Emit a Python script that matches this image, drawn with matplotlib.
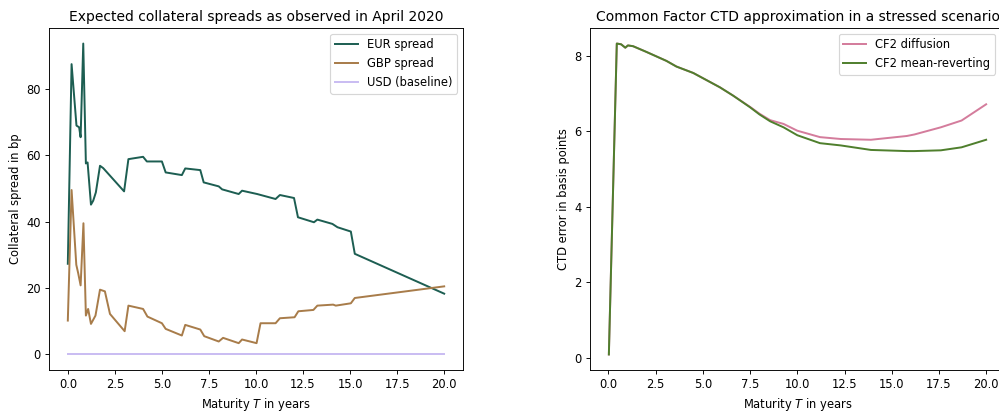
import numpy as np
import matplotlib
matplotlib.use("Agg")
import matplotlib.pyplot as plt

# left panel: collateral spreads (bp) by maturity (years)
T_eur = [0.0, 0.2, 0.46, 0.6, 0.68, 0.82, 0.96, 1.05, 1.23, 1.35, 1.49, 1.71, 1.88,
         2.99, 3.22, 4.0, 4.2, 5.0, 5.2, 6.06, 6.24, 7.04, 7.22, 8.02, 8.2, 9.08, 9.26,
         10.06, 11.04, 11.27, 12.02, 12.23, 13.08, 13.26, 14.06, 14.33, 15.04, 15.25, 20.0]
eur = [27.3, 87.4, 68.9, 68.4, 65.4, 93.6, 57.5, 57.8, 45.1, 46.3, 48.8, 56.8, 56.1,
       49.1, 58.8, 59.5, 58.1, 58.1, 54.8, 54.0, 56.0, 55.5, 51.8, 50.6, 49.7, 48.3, 49.3,
       48.3, 46.8, 48.0, 47.1, 41.3, 39.8, 40.6, 39.3, 38.3, 37.0, 30.3, 18.3]

T_gbp = [0.0, 0.2, 0.45, 0.55, 0.68, 0.83, 0.96, 1.08, 1.23, 1.47, 1.71, 1.97, 2.24,
         3.02, 3.22, 4.0, 4.23, 5.0, 5.2, 6.06, 6.24, 7.04, 7.25, 8.02, 8.25, 9.08, 9.26,
         10.03, 10.24, 11.04, 11.27, 12.05, 12.25, 13.05, 13.26, 14.1, 14.24, 15.04, 15.25, 20.0]
gbp = [10.2, 49.5, 27.0, 24.5, 20.8, 39.5, 11.7, 13.7, 9.2, 11.7, 19.5, 19.0, 12.2,
       7.0, 14.7, 13.7, 11.4, 9.4, 7.7, 5.7, 8.9, 7.5, 5.5, 3.9, 5.0, 3.4, 4.5,
       3.4, 9.4, 9.4, 10.9, 11.2, 13.0, 13.4, 14.7, 15.0, 14.7, 15.4, 17.0, 20.5]

T_usd = [0.0, 20.0]
usd = [0.0, 0.0]

# right panel: CTD error (bp)
T_cf = [0.02, 0.44, 0.67, 0.89, 1.03, 1.3, 2.0, 3.07, 3.6, 4.49, 5.9, 6.6, 7.5, 8.0,
        8.56, 9.27, 10.0, 11.2, 12.3, 13.9, 15.8, 16.2, 17.6, 18.7, 20.0]
cf2_diff = [0.09, 8.33, 8.31, 8.22, 8.28, 8.26, 8.11, 7.87, 7.72, 7.55, 7.17, 6.95, 6.65, 6.47,
            6.30, 6.20, 6.02, 5.85, 5.80, 5.78, 5.88, 5.92, 6.11, 6.29, 6.72]
cf2_mr = [0.09, 8.33, 8.31, 8.22, 8.28, 8.26, 8.11, 7.87, 7.72, 7.55, 7.17, 6.95, 6.64, 6.45,
          6.27, 6.11, 5.90, 5.69, 5.63, 5.51, 5.48, 5.48, 5.50, 5.58, 5.78]

DPI = 83
plt.rcParams["lines.linewidth"] = 1.7
fig = plt.figure(figsize=(999 / DPI, 416 / DPI), dpi=DPI)
ax1 = fig.add_axes([49 / 999, 46 / 416, 414 / 999, 342 / 416])
ax2 = fig.add_axes([590 / 999, 46 / 416, 415 / 999, 342 / 416])

ax1.plot(T_eur, eur, color="#1d5e52", label="EUR spread")
ax1.plot(T_gbp, gbp, color="#a87c4a", label="GBP spread")
ax1.plot(T_usd, usd, color="#c9bcf2", label="USD (baseline)")
ax1.set_title("Expected collateral spreads as observed in April 2020")
ax1.set_xlabel("Maturity $T$ in years")
ax1.set_ylabel("Collateral spread in bp")
ax1.legend(loc="upper right")

ax2.plot(T_cf, cf2_diff, color="#d47c9c", label="CF2 diffusion")
ax2.plot(T_cf, cf2_mr, color="#4f7f2d", label="CF2 mean-reverting")
ax2.set_title("Common Factor CTD approximation in a stressed scenario")
ax2.set_xlabel("Maturity $T$ in years")
ax2.set_ylabel("CTD error in basis points")
ax2.legend(loc="upper right", bbox_to_anchor=(0.99, 1.0))

fig.savefig("out.png", dpi=DPI)
